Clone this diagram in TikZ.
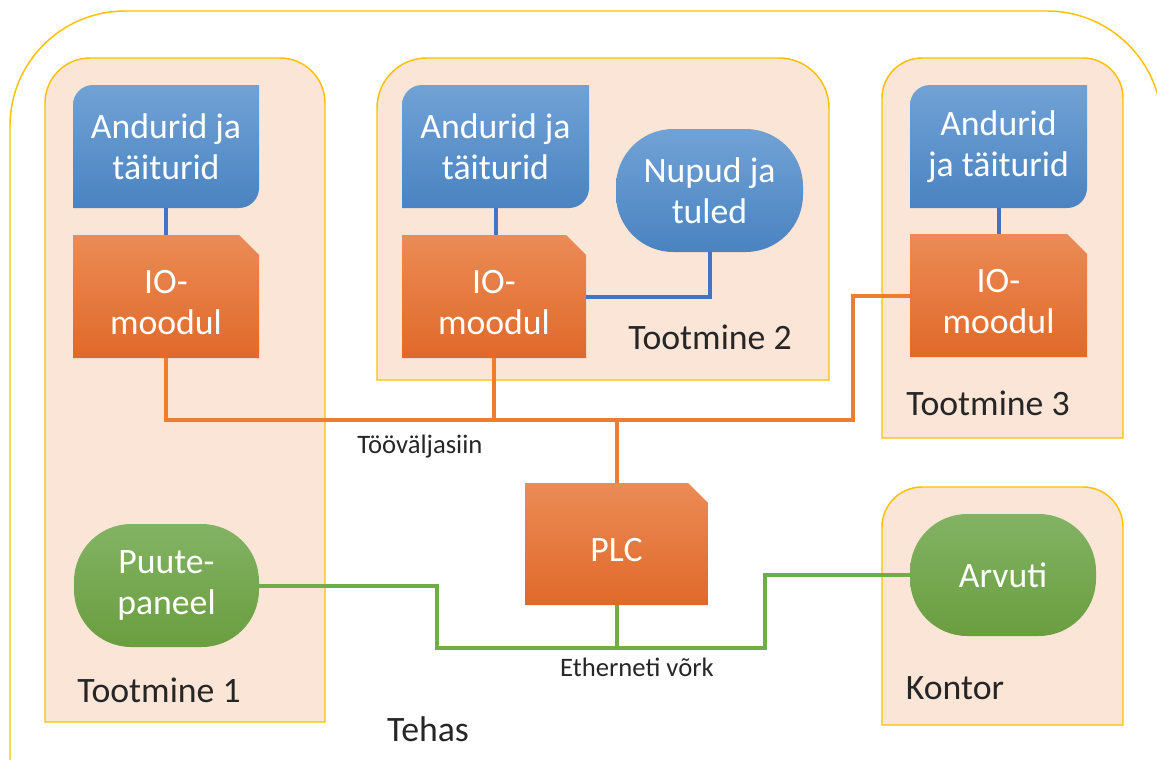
\documentclass[tikz,border=0pt]{standalone}
\usepackage{fontspec}
\setmainfont{Carlito}
\usetikzlibrary{calc}

\definecolor{areafill}{HTML}{FBE5D6}
\definecolor{areadraw}{HTML}{FFC000}
\definecolor{blueTop}{HTML}{71A2D5}
\definecolor{blueBot}{HTML}{4A83C1}
\definecolor{orTop}{HTML}{EB8B55}
\definecolor{orBot}{HTML}{E0692A}
\definecolor{grTop}{HTML}{82B364}
\definecolor{grBot}{HTML}{6A9E3F}
\definecolor{blueline}{HTML}{4472C4}
\definecolor{orline}{HTML}{ED7D31}
\definecolor{grline}{HTML}{70AD47}
\definecolor{labeltext}{HTML}{262626}

\tikzset{
  area/.style={fill=areafill,draw=areadraw,line width=1.1pt},
  frame/.style={draw=areadraw,line width=1.1pt},
  boxframe/.style={inner sep=0pt,draw=none},
  boxtext/.style={font=\fontsize{26.8}{31}\selectfont,text=white,align=center,inner sep=0pt},
  lbl/.style={font=\fontsize{26.8}{31}\selectfont,text=labeltext,inner sep=0pt},
  smalllbl/.style={font=\fontsize{20}{24}\selectfont,text=labeltext,inner sep=0pt},
  bluewire/.style={draw=blueline,line width=3pt},
  buswire/.style={draw=orline,line width=3pt},
  netwire/.style={draw=grline,line width=3pt},
  blueshade/.style={top color=blueTop,bottom color=blueBot},
  orshade/.style={top color=orTop,bottom color=orBot},
  grshade/.style={top color=grTop,bottom color=grBot},
}

% area with rounded top corners: x1 y1 x2 y2 radius
\newcommand\areabox[5]{%
  \filldraw[area] (#1,-#4) -- (#1,{-#2-#5}) arc[start angle=180,end angle=90,radius=#5]
    -- ({#3-#5},-#2) arc[start angle=90,end angle=0,radius=#5] -- (#3,-#4) -- cycle;}

% node covering a rectangle, with its text set a little lower by #7 px:
% name x1 y1 x2 y2 text shift
\newcommand\boxnode[7]{%
  \node[boxframe,minimum width={(#4-#2)*0.75pt},minimum height={(#5-#3)*0.75pt}]
    (#1) at ({(#2+#4)/2},{-(#3+#5)/2}) {};
  \node[boxtext] (#1-txt) at ($(#1.center)+(0,-#7)$) {#6};}

% blue box with rounded top-left and bottom-right corners
\newcommand\sensorbox[6]{%
  \shade[blueshade] (#2,-#5) -- (#2,{-#3-20}) arc[start angle=180,end angle=90,radius=20]
    -- (#4,-#3) -- (#4,{-#5+20}) arc[start angle=0,end angle=-90,radius=20] -- cycle;
  \boxnode{#1}{#2}{#3}{#4}{#5}{#6}{0}}

% orange box with snipped top-right corner
\newcommand\modulebox[6]{%
  \shade[orshade] (#2,-#5) -- (#2,-#3) -- ({#4-20},-#3) -- (#4,{-#3-20}) -- (#4,-#5) -- cycle;
  \boxnode{#1}{#2}{#3}{#4}{#5}{#6}{6}}

% rounded box: name x1 y1 x2 y2 text shade
\newcommand\pillbox[7]{%
  \shade[#7,rounded corners=43pt] (#2,-#3) rectangle (#4,-#5);
  \boxnode{#1}{#2}{#3}{#4}{#5}{#6}{0}}

\begin{document}
\begin{tikzpicture}[x=0.75pt,y=0.75pt]
\useasboundingbox (0,0) rectangle (1157,-760);

% factory outline
\begin{scope}
  \clip (0,0) rectangle (1157,-760);
  \draw[frame,rounded corners=86.25pt] (10,-11) rectangle (1162,-900);
\end{scope}

% production areas and office
\areabox{45}{58}{325}{722}{45}
\areabox{377}{58}{829}{380}{50}
\areabox{882}{58}{1123}{438}{40}
\areabox{882}{487}{1123}{725}{40}

% devices
\sensorbox{s1}{73}{85}{259}{208}{Andurid ja\\täiturid}
\sensorbox{s2}{402}{85}{589}{208}{Andurid ja\\täiturid}
\sensorbox{s3}{910}{85}{1087}{208}{Andurid\\ja täiturid}
\pillbox{np}{616}{129}{803}{252}{Nupud ja\\tuled}{blueshade}

\modulebox{io1}{73}{235}{259}{358}{IO-\\moodul}
\modulebox{io2}{402}{235}{586}{358}{IO-\\moodul}
\modulebox{io3}{910}{234}{1087}{357}{IO-\\moodul}
\modulebox{plc}{525}{483}{708}{605}{PLC}

\pillbox{pp}{74}{524}{259}{647}{Puute-\\paneel}{grshade}
\pillbox{arv}{910}{514}{1096}{636}{Arvuti}{grshade}

% local wiring
\draw[bluewire] (s1.south) -- (io1.north);
\draw[bluewire] (s2.south) -- (s2.south |- io2.north);
\draw[bluewire] (s3.south) -- (io3.north);
\draw[bluewire] (np.south) |- (io2.east);

% fieldbus
\coordinate (fbL) at (io1.south |- 0,-420);
\coordinate (fbR) at (853,-420);
\draw[buswire] (io1.south) -- (fbL) -- (fbR) |- (io3.west);
\draw[buswire] (io2.south) -- (io2.south |- fbR);
\draw[buswire] (plc.north) -- (plc.north |- fbR);

% ethernet
\coordinate (ethL) at (437,-648);
\coordinate (ethR) at (765,-648);
\draw[netwire] (pp.east) -| (ethL) -- (ethR) |- (arv.west);
\draw[netwire] (plc.south) -- (plc.south |- ethL);

% labels
\node[lbl] (t1) at (159,-690) {Tootmine 1};
\node[lbl] (t2) at (710,-337) {Tootmine 2};
\node[lbl] (t3) at (988,-403) {Tootmine 3};
\node[lbl] (ko) at (955,-688) {Kontor};
\node[lbl] (te) at (428,-729) {Tehas};
\node[smalllbl] (fb) at (420,-447) {Tööväljasiin};
\node[smalllbl] (et) at (637,-667) {Etherneti võrk};
\end{tikzpicture}
\end{document}
